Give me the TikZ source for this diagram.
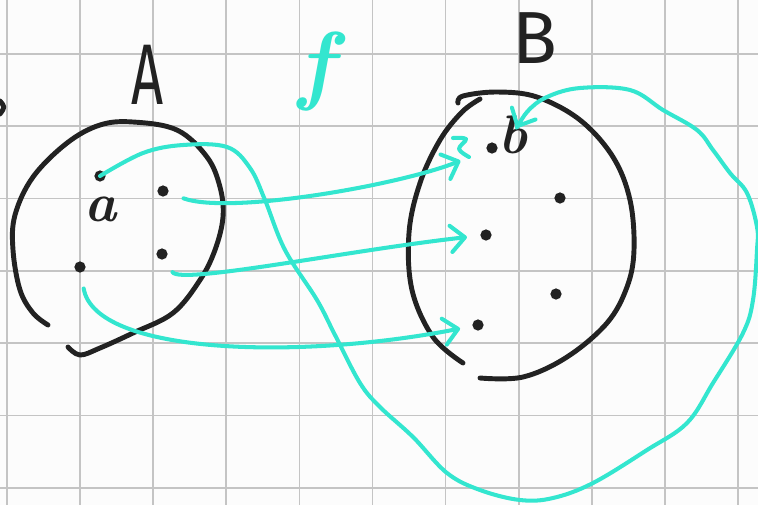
\documentclass[tikz,border=0pt]{standalone}
\usepackage{fontspec}
\usetikzlibrary{arrows.meta}
\newfontfamily\handsans{Fira Sans}
\definecolor{sheetpaper}{HTML}{FCFCFC}
\definecolor{sheetgrid}{HTML}{C4C4C4}
\definecolor{penink}{HTML}{222222}
\definecolor{penteal}{HTML}{33E6CF}

\begin{document}
\begin{tikzpicture}[
  x=0.02cm,
  y=-0.02cm,
  every node/.style={penink, inner sep=0pt},
  gridline/.style={sheetgrid, line width=1pt},
  outline/.style={penink, line width=2.8pt, line cap=round, line join=round},
  elem/.style={circle, fill=penink, minimum size=6.4pt},
  mapsto/.style={penteal, line width=2.3pt, line cap=round, line join=round,
                 -{Straight Barb[length=8pt, width=15pt, round]}},
  scribble/.style={penteal, line width=2.3pt, line cap=round, line join=round},
  setlab/.style={font=\handsans\fontsize{#1}{#1}\selectfont},
  eltlab/.style={font=\fontsize{#1}{#1}\selectfont\bfseries\itshape}
]
  % ---- the sheet of squared paper ----
  \useasboundingbox (0,0) rectangle (758,505);
  \clip (0,0) rectangle (758,505);
  \fill[sheetpaper] (0,0) rectangle (758,505);
  \foreach \gx in {0,...,10}
    \draw[gridline] ({7+73.1*\gx},0) -- ({7+73.1*\gx},505);
  \foreach \gy in {0,...,6}
    \draw[gridline] (0,{54+72.3*\gy}) -- (758,{54+72.3*\gy});

  % ---- cut-off mark at the left edge ----
  \draw[outline] (0,101) .. controls (5,107) .. (0,114);

  % ---- set A, an open loop ----
  \draw[outline] plot[smooth, tension=0.6] coordinates {
    (48,325) (33,313) (20,290) (13,250) (15,215) (33,177) (67,143)
    (100,125) (133,122) (177,130) (207,157) (220,187) (223,217)
    (215,250) (200,280) (173,313) (133,333) (100,348) (80,355) (68,347)};
  \node[setlab=49] (setA) at (148,75) {\scalebox{0.65}[1]{A}};

  % ---- set B, two strokes ----
  \draw[outline] plot[smooth, tension=0.6] coordinates {
    (458,103) (463,96) (497,92) (537,97) (580,120) (613,157) (630,200)
    (634,250) (627,287) (607,323) (567,357) (523,377) (480,378)};
  \draw[outline] plot[smooth, tension=0.6] coordinates {
    (480,99) (462,112) (440,140) (420,183) (409,233)
    (412,290) (433,337) (463,363)};
  \node[setlab=42] (setB) at (535,38) {B};

  % ---- name of the map ----
  \node[eltlab=50, penteal] (mapf) at (316,72) {f};

  % ---- elements ----
  \node[elem] (a)  at (100,176) {};
  \node[elem] (a2) at (163,191) {};
  \node[elem] (a3) at (162,254) {};
  \node[elem] (a4) at (80,267)  {};
  \node[eltlab=31] (lbla) at (101,209) {a};

  \node[elem] (b)  at (492,148) {};
  \node[elem] (b2) at (560,198) {};
  \node[elem] (b3) at (486,235) {};
  \node[elem] (b4) at (556,294) {};
  \node[elem] (b5) at (478,325) {};
  \node[eltlab=31] (lblb) at (513,135) {b};

  % ---- f, element by element ----
  \draw[mapsto, shorten <=9pt, shorten >=16pt]
    (a2) .. controls (230,215) and (400,185) .. (b);
  \draw[scribble] plot[smooth, tension=0.6] coordinates {
    (453,138) (466,139) (459,149) (469,157)};
  \draw[mapsto, shorten <=8.5pt, shorten >=7.5pt]
    (a3) .. controls (180,285) and (350,250) .. (b3);
  \draw[mapsto, shorten <=9pt, shorten >=7pt]
    (a4) .. controls (95,355) and (300,360) .. (b5);

  % ---- the long way round, from a to b ----
  \draw[mapsto, shorten >=4.5pt] plot[smooth, tension=0.6] coordinates {
    (a) (143,153) (183,145) (227,147) (250,168) (265,200) (285,250)
    (317,300) (335,335) (360,383) (380,407) (413,437) (447,473) (480,490)
    (520,500) (553,498) (593,483) (647,450) (687,423) (713,383) (743,333)
    (753,300) (757,250) (757,227) (747,193) (730,173) (713,150) (697,130)
    (663,110) (630,90) (580,88) (547,97) (527,112) (lblb)};
\end{tikzpicture}
\end{document}
